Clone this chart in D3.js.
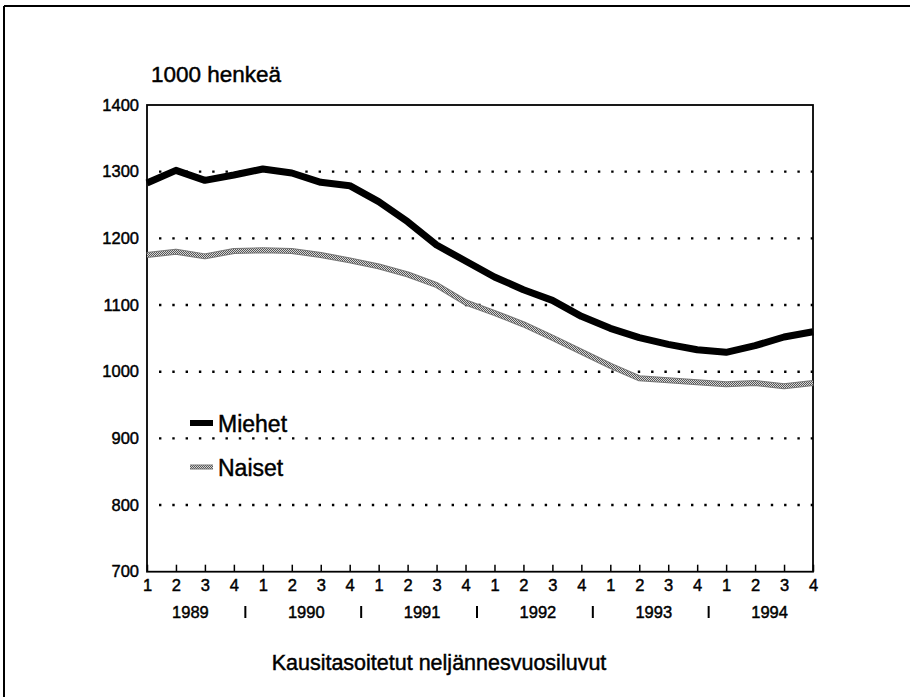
<!DOCTYPE html>
<html>
<head>
<meta charset="utf-8">
<script src="https://cdn.jsdelivr.net/npm/d3@7"></script>
<style>
  html, body { margin: 0; padding: 0; background: #fff; }
  svg text { font-family: "Liberation Sans", Arial, Helvetica, sans-serif; fill: #000; stroke: #000; stroke-width: 0.45px; }
</style>
</head>
<body>
<svg id="chart" width="910" height="697"></svg>
<script>
// ---- data ----
const quarterLabels = ["1","2","3","4","1","2","3","4","1","2","3","4","1","2","3","4","1","2","3","4","1","2","3","4"];
const years = ["1989","1990","1991","1992","1993","1994"];
const miehet = [1283,1302,1287,1295,1304,1298,1284,1279,1255,1225,1190,1166,1142,1123,1107,1083,1065,1051,1041,1033,1029,1039,1052,1060];
const naiset = [1175,1180,1173,1181,1182,1181,1175,1167,1158,1146,1130,1104,1088,1071,1051,1030,1009,990,987,984,981,983,978,983];
const yTicks = [700,800,900,1000,1100,1200,1300,1400];
const gridValues = [800,900,1000,1100,1200,1300];
const seriesNames = ["Miehet","Naiset"];
const yUnit = "1000 henkeä";
const xTitle = "Kausitasoitetut neljännesvuosiluvut";

// ---- layout ----
const svg = d3.select("#chart");
const L = 147, R = 813, T = 105, B = 571.7;
const idx = d3.range(quarterLabels.length);
const x = d3.scaleLinear().domain([0, quarterLabels.length - 1]).range([L, R]);
const y = d3.scaleLinear().domain([700, 1400]).range([B, T]);

// pattern for Naiset line
const defs = svg.append("defs");
const pat = defs.append("pattern").attr("id","chk").attr("patternUnits","userSpaceOnUse")
  .attr("width",2).attr("height",2);
pat.append("rect").attr("width",2).attr("height",2).attr("fill","#d8d8d8");
pat.append("rect").attr("width",1).attr("height",1).attr("fill","#555");
pat.append("rect").attr("x",1).attr("y",1).attr("width",1).attr("height",1).attr("fill","#555");

// outer frame (top and left edges)
svg.append("line").attr("x1",4).attr("x2",910).attr("y1",6).attr("y2",6).attr("stroke","#000").attr("stroke-width",2);
svg.append("line").attr("x1",4).attr("x2",4).attr("y1",6).attr("y2",697).attr("stroke","#000").attr("stroke-width",2);

// gridlines (dotted)
svg.append("g").selectAll("line").data(gridValues).join("line")
  .attr("x1", L + 12).attr("x2", R)
  .attr("y1", d => y(d)).attr("y2", d => y(d))
  .attr("stroke","#000").attr("stroke-width",2.4)
  .attr("stroke-dasharray","2.4 10.9");

// plot box
svg.append("rect").attr("x",L).attr("y",T).attr("width",R-L).attr("height",B-T)
  .attr("fill","none").attr("stroke","#000").attr("stroke-width",1.8);

// y axis
const yAxis = svg.append("g").attr("transform",`translate(${L},0)`)
  .call(d3.axisLeft(y).tickValues(yTicks).tickSize(0).tickPadding(8).tickFormat(d3.format("d")));
yAxis.select(".domain").remove();
yAxis.selectAll("text").attr("font-size",16.5).attr("font-family","Liberation Sans, Arial, sans-serif");

// x axis
const xAxis = svg.append("g").attr("transform",`translate(0,${B})`)
  .call(d3.axisBottom(x).tickValues(idx).tickSize(-7).tickPadding(8).tickFormat(i => quarterLabels[i]));
xAxis.select(".domain").remove();
xAxis.selectAll(".tick line").attr("stroke","#000").attr("stroke-width",1.5);
xAxis.selectAll("text").attr("font-size",16.5).attr("font-family","Liberation Sans, Arial, sans-serif");

// year labels
const yearG = svg.append("g");
years.forEach((yr, k) => {
  const cx = (x(4*k) + x(4*k+3)) / 2;
  yearG.append("text").attr("x", cx).attr("y", 618).attr("text-anchor","middle")
    .attr("font-size",16.5).text(yr);
  if (k < years.length - 1) {
    const sx = (x(4*k+3) + x(4*k+4)) / 2 - 3;
    yearG.append("line").attr("x1",sx).attr("x2",sx).attr("y1",606).attr("y2",618)
      .attr("stroke","#000").attr("stroke-width",2);
  }
});

// lines
const line = d3.line().x((d,i) => x(i)).y(d => y(d)).curve(d3.curveLinear);
svg.append("path").datum(naiset).attr("d", line).attr("fill","none")
  .attr("stroke","#777").attr("stroke-width",6).attr("stroke-linejoin","round");
svg.append("path").datum(naiset).attr("d", line).attr("fill","none")
  .attr("stroke","url(#chk)").attr("stroke-width",4).attr("stroke-linejoin","round");
svg.append("path").datum(miehet).attr("d", line).attr("fill","none")
  .attr("stroke","#000").attr("stroke-width",7).attr("stroke-linejoin","round");

// legend
const leg = svg.append("g");
leg.append("line").attr("x1",190).attr("x2",213).attr("y1",423).attr("y2",423)
  .attr("stroke","#000").attr("stroke-width",6);
leg.append("line").attr("x1",190).attr("x2",213).attr("y1",467).attr("y2",467)
  .attr("stroke","#777").attr("stroke-width",5);
leg.append("line").attr("x1",190).attr("x2",213).attr("y1",467).attr("y2",467)
  .attr("stroke","url(#chk)").attr("stroke-width",3);
leg.append("text").attr("x",218).attr("y",432).attr("font-size",23).text(seriesNames[0]);
leg.append("text").attr("x",218).attr("y",476).attr("font-size",23).text(seriesNames[1]);

// unit label
svg.append("text").attr("x",151).attr("y",82).attr("font-size",22.5).text(yUnit);

// x title
svg.append("text").attr("x",439).attr("y",670).attr("text-anchor","middle")
  .attr("font-size",21.5).text(xTitle);
</script>
</body>
</html>
